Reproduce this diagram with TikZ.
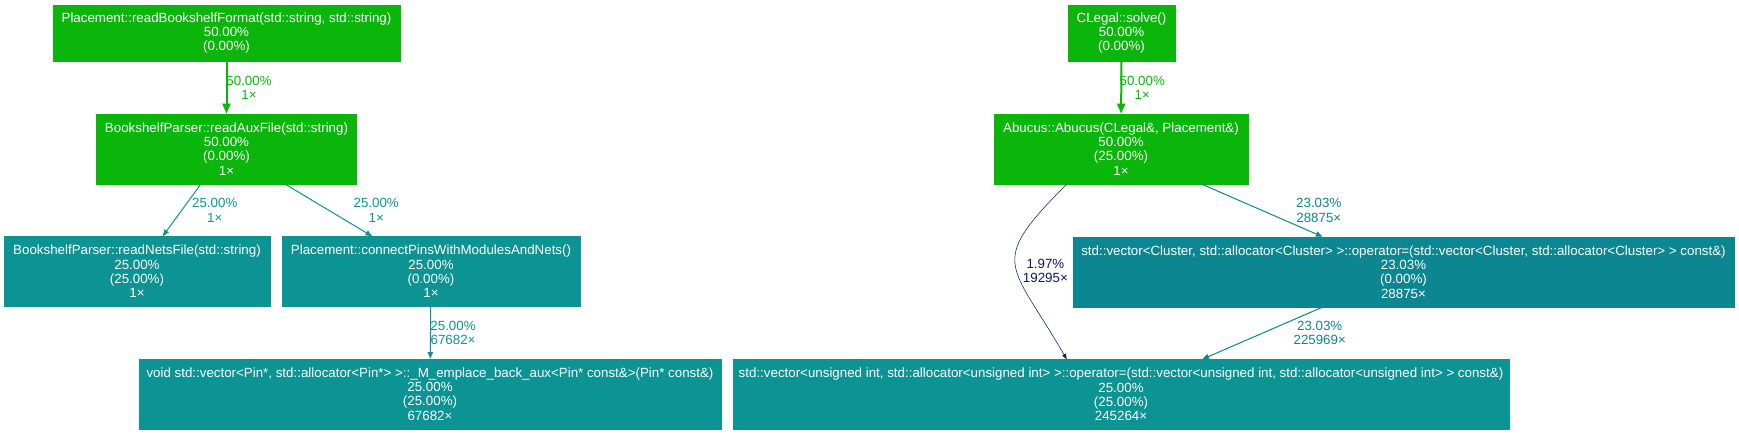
\documentclass[tikz,border=0pt]{standalone}
\usepackage{fontspec}
\setmainfont{Liberation Sans}
\usepackage{tikz}
\usetikzlibrary{arrows.meta, positioning}

\definecolor{c50}{RGB}{10,182,10}
\definecolor{c25}{RGB}{12,147,147}
\definecolor{c23}{RGB}{12,134,145}
\definecolor{c02}{RGB}{13,21,117}

\begin{document}
\begin{tikzpicture}[x=0.75pt,y=0.75pt,
 font=\fontsize{10}{10.7}\selectfont,
 fn/.style={rectangle,draw=#1,fill=#1,text=white,align=center,inner sep=0pt,minimum height=52.5pt},
 lbl/.style={align=center,inner sep=0pt},
 big call/.style={c50,line width=1.5pt,-{Triangle[length=7.5pt,width=6pt]}},
 call/.style={#1,line width=0.75pt,-{Triangle[length=5pt,width=4pt]}},
 thin call/.style={c02,line width=0.4pt,-{Triangle[length=4pt,width=3pt]}}]

  \useasboundingbox (0,0) rectangle (1739,-435);

  \node[fn=c50,minimum width=260.25pt,minimum height=42pt] (fmt) at (226.5,-33)
    {Placement::readBookshelfFormat(std::string, std::string)\\50.00\%\\(0.00\%)};
  \node[fn=c50,minimum width=80.25pt,minimum height=42pt] (solve) at (1121.5,-33)
    {CLegal::solve()\\50.00\%\\(0.00\%)};
  \node[fn=c50,minimum width=195pt] (aux) at (226.5,-149)
    {BookshelfParser::readAuxFile(std::string)\\50.00\%\\(0.00\%)\\1×};
  \node[fn=c50,minimum width=190.5pt] (abucus) at (1121,-149)
    {Abucus::Abucus(CLegal\&, Placement\&)\\50.00\%\\(25.00\%)\\1×};
  \node[fn=c25,minimum width=199.5pt] (nets) at (137,-271.5)
    {BookshelfParser::readNetsFile(std::string)\\25.00\%\\(25.00\%)\\1×};
  \node[fn=c25,minimum width=223.5pt] (pins) at (431,-271.5)
    {Placement::connectPinsWithModulesAndNets()\\25.00\%\\(0.00\%)\\1×};
  \node[fn=c23,minimum width=495.75pt] (cluster) at (1403.5,-272)
    {std::vector<Cluster, std::allocator<Cluster> >::operator=(std::vector<Cluster, std::allocator<Cluster> > const\&)\\23.03\%\\(0.00\%)\\28875×};
  \node[fn=c25,minimum width=436.5pt] (emplace) at (430,-394)
    {void std::vector<Pin*, std::allocator<Pin*> >::\_M\_emplace\_back\_aux<Pin* const\&>(Pin* const\&)\\25.00\%\\(25.00\%)\\67682×};
  \node[fn=c25,minimum width=582pt] (uint) at (1121,-394.5)
    {std::vector<unsigned int, std::allocator<unsigned int> >::operator=(std::vector<unsigned int, std::allocator<unsigned int> > const\&)\\25.00\%\\(25.00\%)\\245264×};

  \path (fmt) edge[big call] node[lbl,xshift=16.9pt] (lfmt) {50.00\%\\1×} (aux);
  \path (solve) edge[big call] node[lbl,xshift=15.75pt] (lsolve) {50.00\%\\1×} (abucus);

  \foreach \s/\t/\c/\d/\l in {aux/nets/c25/24.75pt/25.00\%\\1×,
    aux/pins/c25/35.6pt/25.00\%\\1×, pins/emplace/c25/16.9pt/25.00\%\\67682×,
    abucus/cluster/c23/42.4pt/23.03\%\\28875×, cluster/uint/c23/43.1pt/23.03\%\\225969×} {
   \path (\s) edge[call=\c] node[lbl,xshift=\d] (l\s\t) {\l} (\t);}

  \path (abucus.213) edge[thin call,out=225,in=120,looseness=1.66]
    node[lbl,xshift=22.5pt,yshift=-4.5pt] (labucusuint) {1.97\%\\19295×} (uint.147);

\end{tikzpicture}
\end{document}
